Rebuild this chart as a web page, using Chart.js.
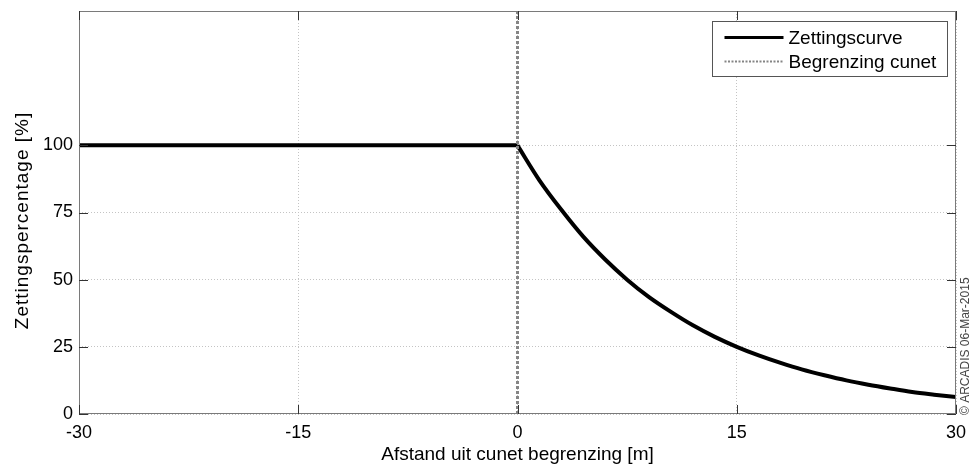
<!DOCTYPE html>
<html>
<head>
<meta charset="utf-8">
<title>Zettingscurve</title>
<script src="https://cdn.jsdelivr.net/npm/chart.js@4.4.1/dist/chart.umd.min.js"></script>
<style>
  body { margin: 0; background: #fff; }
  #wrap { position: relative; width: 970px; height: 466px; }
</style>
</head>
<body>
<div id="wrap"><canvas id="chart"></canvas></div>
<script>
// zettingscurve: vlak deel links van het cunet, daarna afname
const vlakX = [-30, 0];
const vlakY = [100, 100];
const afstand = [0, 1.5, 3, 4.5, 6, 7.5, 9, 10.5, 12, 13.5, 15, 16.5, 18, 19.5, 21, 22.5, 24, 25.5, 27, 28.5, 30];
const zetting = [100, 87, 76, 66, 57.5, 50, 43.5, 38, 33, 28.7, 25, 21.8, 19, 16.5, 14.4, 12.5, 10.9, 9.5, 8.2, 7.2, 6.3];

// begrenzing cunet: verticale lijn op x = 0
const cunetX = [0, 0];
const cunetY = [0, 150];

const xTicks = [-30, -15, 0, 15, 30];
const yTicks = [0, 25, 50, 75, 100];

const labels = ['Zettingscurve', 'Begrenzing cunet'];
const yTitle = 'Zettingspercentage [%]';
const copyright = '\u00A9 ARCADIS 06-Mar-2015';

const FONT = '"Liberation Sans", Arial, sans-serif';

// kader, ticks naar binnen, y-titel, legenda en copyright
const extras = {
  id: 'extras',
  afterDraw(chart) {
    const ctx = chart.ctx;
    const a = chart.chartArea;
    const xs = chart.scales.x, ys = chart.scales.y;
    ctx.save();
    ctx.strokeStyle = '#7a7a7a';
    ctx.lineWidth = 1;
    ctx.strokeRect(a.left + 0.5, a.top + 0.5, a.right - a.left - 1, a.bottom - a.top - 1);

    ctx.strokeStyle = '#333';
    ctx.beginPath();
    xTicks.forEach(v => {
      const px = Math.round(xs.getPixelForValue(v)) + 0.5;
      ctx.moveTo(px, a.bottom); ctx.lineTo(px, a.bottom - 9);
      ctx.moveTo(px, a.top); ctx.lineTo(px, a.top + 9);
    });
    yTicks.forEach(v => {
      const py = Math.round(ys.getPixelForValue(v)) + 0.5;
      ctx.moveTo(a.left, py); ctx.lineTo(a.left + 9, py);
      ctx.moveTo(a.right, py); ctx.lineTo(a.right - 9, py);
    });
    ctx.stroke();

    // legenda
    const bw = 235, bh = 55;
    const bx = Math.round(a.right - 9 - bw) + 0.5, by = Math.round(a.top + 10) + 0.5;
    ctx.fillStyle = '#fff';
    ctx.fillRect(bx, by, bw, bh);
    ctx.strokeStyle = '#555';
    ctx.strokeRect(bx, by, bw, bh);
    ctx.font = '19px ' + FONT;
    ctx.textBaseline = 'middle';
    ctx.fillStyle = '#000';
    const styles = [chart.data.datasets[1], chart.data.datasets[2]];
    styles.forEach((ds, i) => {
      const ly = by + 16 + i * 24;
      ctx.beginPath();
      ctx.strokeStyle = ds.borderColor;
      ctx.lineWidth = i === 0 ? 3 : 2;
      ctx.setLineDash(i === 0 ? [] : [2, 1.5]);
      ctx.moveTo(bx + 12, ly); ctx.lineTo(bx + 71, ly);
      ctx.stroke();
      ctx.setLineDash([]);
      ctx.fillText(labels[i], bx + 76, ly + 1);
    });

    // y-titel, gedraaid
    ctx.save();
    ctx.translate(23, (a.top + a.bottom) / 2 + 8);
    ctx.rotate(-Math.PI / 2);
    ctx.font = '19px ' + FONT;
    ctx.letterSpacing = '1px';
    ctx.textAlign = 'center';
    ctx.textBaseline = 'middle';
    ctx.fillText(yTitle, 0, 0);
    ctx.restore();

    // copyright langs de rechterkant
    ctx.translate(966, a.bottom + 1);
    ctx.rotate(-Math.PI / 2);
    ctx.font = '12px ' + FONT;
    ctx.fillStyle = '#444';
    ctx.textBaseline = 'middle';
    ctx.textAlign = 'left';
    ctx.fillText(copyright, 0, 0);
    ctx.restore();
  }
};

const lijn = {
  borderColor: '#000',
  borderWidth: 4,
  pointRadius: 0,
  order: 1
};

new Chart(document.getElementById('chart'), {
  type: 'line',
  data: {
    datasets: [
      Object.assign({
        label: labels[0],
        data: vlakX.map((x, i) => ({ x: x, y: vlakY[i] }))
      }, lijn),
      Object.assign({
        label: labels[0],
        data: afstand.map((x, i) => ({ x: x, y: zetting[i] })),
        cubicInterpolationMode: 'monotone'
      }, lijn),
      {
        label: labels[1],
        data: cunetX.map((x, i) => ({ x: x, y: cunetY[i] })),
        borderColor: '#858585',
        borderWidth: 3,
        borderDash: [3, 2],
        pointRadius: 0,
        order: 0
      }
    ]
  },
  options: {
    responsive: true,
    maintainAspectRatio: false,
    animation: false,
    layout: { padding: { left: 0, top: 11, right: 14, bottom: 0 } },
    plugins: {
      legend: { display: false },
      tooltip: { enabled: false }
    },
    scales: {
      x: {
        type: 'linear',
        min: -30,
        max: 30,
        afterBuildTicks: s => { s.ticks = xTicks.map(v => ({ value: v })); },
        afterFit: s => { s.height = 52; s.paddingLeft = 0; s.paddingRight = 0; },
        grid: { color: '#c4c4c4', lineWidth: 1, drawTicks: false },
        border: { display: false, dash: [1, 2] },
        ticks: { color: '#000', padding: 8, maxRotation: 0, font: { family: FONT, size: 18 } },
        title: {
          display: true,
          text: 'Afstand uit cunet begrenzing [m]',
          color: '#000',
          padding: { top: 0, bottom: 0 },
          font: { family: FONT, size: 19 }
        }
      },
      y: {
        min: 0,
        max: 150,
        afterBuildTicks: s => { s.ticks = yTicks.map(v => ({ value: v })); },
        afterFit: s => { s.width = 79; s.paddingTop = 0; s.paddingBottom = 0; },
        grid: { color: '#c4c4c4', lineWidth: 1, drawTicks: false },
        border: { display: false, dash: [1, 2] },
        ticks: { color: '#000', padding: 6, font: { family: FONT, size: 18 } },
        title: { display: false }
      }
    }
  },
  plugins: [extras]
});
</script>
</body>
</html>
